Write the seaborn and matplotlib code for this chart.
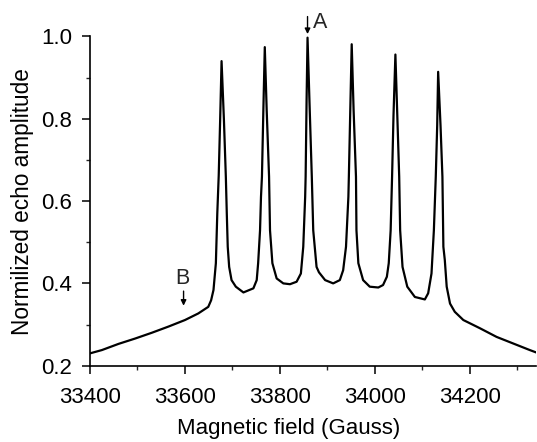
import matplotlib
matplotlib.use("Agg")
import matplotlib.pyplot as plt
from matplotlib.ticker import MultipleLocator
import seaborn as sns
import pandas as pd

# Magnetic field (Gauss) and normalized echo amplitude
field = [33400, 33425, 33460, 33495, 33530, 33565, 33600, 33628, 33649, 33655,
         33660, 33665, 33668, 33671, 33674, 33677, 33682, 33686, 33688,
         33690, 33693, 33698, 33707, 33723, 33744, 33751, 33754, 33758, 33760,
         33762, 33765, 33768, 33772, 33777, 33779, 33784, 33793, 33807, 33821,
         33835, 33844, 33849, 33853, 33854, 33856, 33858, 33862, 33867, 33870,
         33877, 33882, 33895, 33912, 33926, 33933, 33939, 33944, 33945, 33948,
         33951, 33955, 33960, 33961, 33965, 33975, 33989, 34007, 34017, 34025,
         34029, 34033, 34036, 34039, 34043, 34047, 34051, 34053, 34058, 34068,
         34084, 34105, 34112, 34119, 34124, 34128, 34131, 34133, 34138, 34142,
         34144, 34147, 34151, 34158, 34168, 34186, 34221, 34256, 34291, 34326,
         34340]
amplitude = [0.230, 0.238, 0.253, 0.266, 0.280, 0.295, 0.311, 0.327, 0.343, 0.359,
             0.384, 0.449, 0.570, 0.662, 0.796, 0.940, 0.796, 0.659, 0.570,
             0.489, 0.440, 0.408, 0.392, 0.378, 0.388, 0.408, 0.449, 0.529, 0.610,
             0.659, 0.821, 0.974, 0.821, 0.659, 0.529, 0.449, 0.412, 0.400, 0.398,
             0.404, 0.424, 0.489, 0.610, 0.659, 0.845, 0.997, 0.845, 0.659, 0.529,
             0.440, 0.427, 0.408, 0.400, 0.408, 0.432, 0.489, 0.610, 0.659, 0.821,
             0.981, 0.821, 0.659, 0.529, 0.449, 0.408, 0.392, 0.390, 0.396, 0.416,
             0.449, 0.529, 0.659, 0.808, 0.956, 0.808, 0.659, 0.529, 0.440, 0.392,
             0.367, 0.361, 0.376, 0.424, 0.529, 0.659, 0.784, 0.914, 0.784, 0.659,
             0.489, 0.457, 0.392, 0.351, 0.331, 0.311, 0.291, 0.270, 0.254, 0.238,
             0.232]

x_ticks = [33400, 33600, 33800, 34000, 34200]
y_ticks = [0.2, 0.4, 0.6, 0.8, 1.0]
marker_labels = ["A", "B"]
marker_field = [33858, 33597]
marker_top = [1.055, 0.388]
marker_tip = [0.999, 0.339]

df = pd.DataFrame({"field": field, "amplitude": amplitude})

sns.set_theme(style="ticks")
plt.rcParams["font.family"] = ["Liberation Sans", "DejaVu Sans"]

fig = plt.figure(figsize=(5.37, 4.42), dpi=100)
ax = fig.add_axes([0.1676, 0.1726, 0.8314, 0.745])

sns.lineplot(data=df, x="field", y="amplitude", ax=ax, color="black",
             linewidth=1.6, sort=False, estimator=None)

ax.set_xlim(33400, 34340)
ax.set_ylim(0.2, 1.0)
ax.set_xticks(x_ticks)
ax.set_xticklabels([str(t) for t in x_ticks])
ax.set_yticks(y_ticks)
ax.set_yticklabels([f"{t:.1f}" for t in y_ticks])
ax.xaxis.set_minor_locator(MultipleLocator(100))
ax.yaxis.set_minor_locator(MultipleLocator(0.1))

ax.tick_params(axis="both", which="major", direction="out", length=5.8, width=1.1,
               labelsize=16, colors="black")
ax.tick_params(axis="x", which="major", pad=9.5)
ax.tick_params(axis="y", which="major", pad=7)
ax.tick_params(axis="both", which="minor", direction="out", length=3, width=1.0)

sns.despine(ax=ax)
for s in ("left", "bottom"):
    ax.spines[s].set_linewidth(1.2)
    ax.spines[s].set_color("black")

ax.set_xlabel("Magnetic field (Gauss)", fontsize=16, labelpad=7, color="black")
ax.xaxis.label.set_x(0.444)
ax.set_ylabel("Normilized echo amplitude", fontsize=16.3, labelpad=5, color="black")

# markers A and B
ax.annotate("", xy=(marker_field[0], marker_tip[0]), xytext=(marker_field[0], marker_top[0]),
            arrowprops=dict(arrowstyle="-|>", color="black", lw=1.0, mutation_scale=8),
            annotation_clip=False)
ax.text(marker_field[0] + 12, 1.033, marker_labels[0], fontsize=15.5, ha="left", va="center",
        clip_on=False)
ax.annotate("", xy=(marker_field[1], marker_tip[1]), xytext=(marker_field[1], marker_top[1]),
            arrowprops=dict(arrowstyle="-|>", color="black", lw=1.0, mutation_scale=8))
ax.text(marker_field[1] - 3, 0.412, marker_labels[1], fontsize=15.5, ha="center", va="center")

fig.savefig("out.png", dpi=100)
